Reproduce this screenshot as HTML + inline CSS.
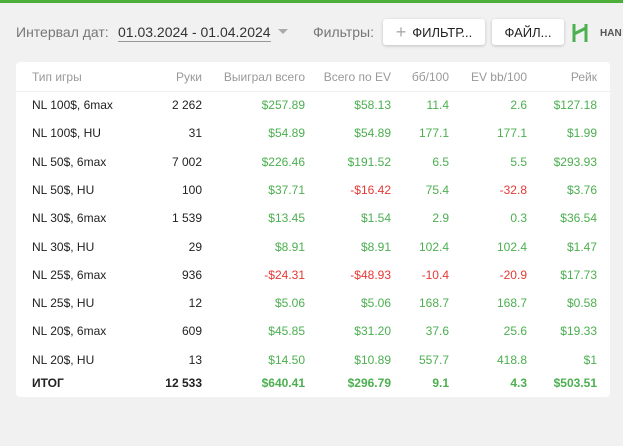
<!DOCTYPE html>
<html><head><meta charset="utf-8"><style>
body{margin:0;width:623px;height:446px;background:#f1f1f1;font-family:"Liberation Sans",sans-serif;position:relative;overflow:hidden}
.top{position:absolute;left:0;top:0;width:623px;height:3px;background:#4caf3a}
.ab{position:absolute;white-space:nowrap}
.btn{position:absolute;background:#fff;border-radius:3px;box-shadow:0 1px 3px rgba(0,0,0,.2);font-size:13px;color:#222;display:flex;align-items:center;justify-content:center}
.card{position:absolute;left:16px;top:62px;width:594px;height:335px;background:#fff;border-radius:4px}
.cell{position:absolute;font-size:12px;white-space:nowrap;transform:translateY(-50%)}
.r{text-align:right}
.g{color:#4caf50}.red{color:#e53935}.k{color:#222}.h{color:#999}
</style></head><body>
<div class="top"></div>
<div class="ab" style="left:16px;top:24px;font-size:14px;color:#777">Интервал дат:</div>
<div class="ab" style="left:118px;top:24px;font-size:14px;color:#333;border-bottom:1px solid #999;padding-bottom:1px">01.03.2024 - 01.04.2024</div>
<div class="ab" style="left:278px;top:29px;width:0;height:0;border-left:5px solid transparent;border-right:5px solid transparent;border-top:5px solid #aaa"></div>
<div class="ab" style="left:313px;top:24px;font-size:14px;color:#777">Фильтры:</div>
<div class="btn" style="left:383px;top:19px;width:102px;height:26px"><span style="color:#aaa;font-size:18px;margin-right:6px">+</span>ФИЛЬТР...</div>
<div class="btn" style="left:492px;top:19px;width:72px;height:26px">ФАЙЛ...</div>
<svg class="ab" style="left:572px;top:22px" width="24" height="22"><path d="M2 2V20M2 12L14 6M14 2V20" stroke="#4caf50" stroke-width="3" fill="none"/></svg>
<div class="ab" style="left:600px;top:28px;font-size:10px;font-weight:bold;color:#555">HAN</div>
<div class="card">
<div style="position:absolute;left:0;top:29px;width:594px;height:1px;background:#eee"></div>
<div id="tb"></div>
</div>
<script>
const types=["NL 100$, 6max","NL 100$, HU","NL 50$, 6max","NL 50$, HU","NL 30$, 6max","NL 30$, HU","NL 25$, 6max","NL 25$, HU","NL 20$, 6max","NL 20$, HU"];
const hands=["2 262","31","7 002","100","1 539","29","936","12","609","13"];
const won=["$257.89","$54.89","$226.46","$37.71","$13.45","$8.91","-$24.31","$5.06","$45.85","$14.50"];
const ev=["$58.13","$54.89","$191.52","-$16.42","$1.54","$8.91","-$48.93","$5.06","$31.20","$10.89"];
const bb=["11.4","177.1","6.5","75.4","2.9","102.4","-10.4","168.7","37.6","557.7"];
const evbb=["2.6","177.1","5.5","-32.8","0.3","102.4","-20.9","168.7","25.6","418.8"];
const rake=["$127.18","$1.99","$293.93","$3.76","$36.54","$1.47","$17.73","$0.58","$19.33","$1"];
const total=["ИТОГ","12 533","$640.41","$296.79","9.1","4.3","$503.51"];
const headers=["Тип игры","Руки","Выиграл всего","Всего по EV","бб/100","EV bb/100","Рейк"];
const rights=[0,186,289,375,433,511,581];
const names=["game-type","hands","won-total","ev-total","bb100","ev-bb100","rake"];
const tb=document.getElementById('tb');
function cell(txt,col,y,cls,name){
 const d=document.createElement('div');
 d.className='cell '+cls;
 d.textContent=txt;
 d.style.top=y+'px';
 if(col===0)d.style.left='16px';else{d.style.right=(594-rights[col])+'px';}
 
 
 tb.appendChild(d);
}
headers.forEach((h,i)=>cell(h,i,15,'h','header-'+names[i]));
const cols=[types,hands,won,ev,bb,evbb,rake];
for(let r=0;r<types.length;r++){
 const y=43+r*28.3;
 cols.forEach((c,i)=>{
  let cls=i<2?'k':(c[r].startsWith('-')?'red':'g');
  cell(c[r],i,y,cls,names[i]+'-cell');
 });
}
total.forEach((t,i)=>{
 const c=cell(t,i,321,(i<2?'k':'g'),'total-'+names[i]);
});
tb.querySelectorAll('.cell').forEach(e=>{if(parseFloat(e.style.top)===321)e.style.fontWeight='bold';});
</script>
</body></html>
